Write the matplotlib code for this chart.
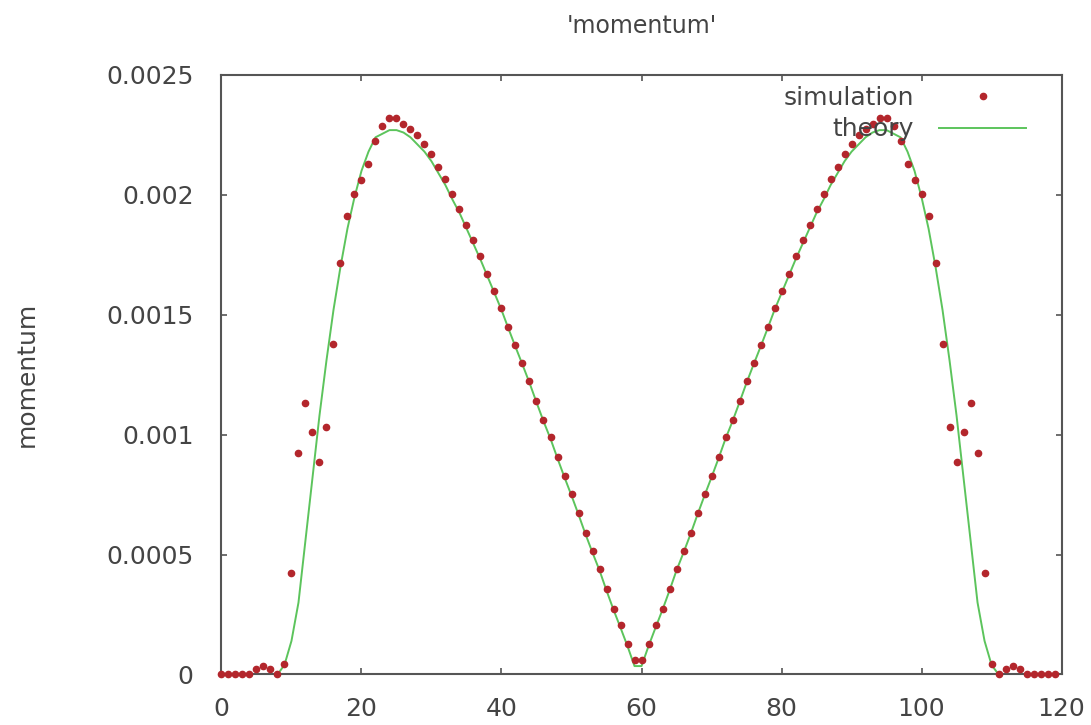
import matplotlib
matplotlib.use('Agg')
import matplotlib.pyplot as plt
import numpy as np

# sample positions (one per cell)
x = list(range(120))

# simulation values
simulation = [
    0.0, 0.0, 0.0, 0.0, 0.000002, 0.000021, 0.000034, 0.000021, 0.000002, 0.000043,
    0.000424, 0.000925, 0.001132, 0.001011, 0.000884, 0.001032, 0.001380, 0.001715, 0.001912, 0.002004,
    0.002060, 0.002130, 0.002225, 0.002288, 0.002320, 0.002320, 0.002297, 0.002273, 0.002248, 0.002212,
    0.002171, 0.002117, 0.002068, 0.002004, 0.001941, 0.001874, 0.001812, 0.001743, 0.001671, 0.001600,
    0.001528, 0.001449, 0.001373, 0.001299, 0.001223, 0.001140, 0.001061, 0.000990, 0.000907, 0.000828,
    0.000752, 0.000673, 0.000590, 0.000514, 0.000441, 0.000355, 0.000274, 0.000205, 0.000129, 0.000062,
    0.000062, 0.000129, 0.000205, 0.000274, 0.000355, 0.000441, 0.000514, 0.000590, 0.000673, 0.000752,
    0.000828, 0.000907, 0.000990, 0.001061, 0.001140, 0.001223, 0.001299, 0.001373, 0.001449, 0.001528,
    0.001600, 0.001671, 0.001743, 0.001812, 0.001874, 0.001941, 0.002004, 0.002068, 0.002117, 0.002171,
    0.002212, 0.002248, 0.002273, 0.002297, 0.002320, 0.002320, 0.002288, 0.002225, 0.002130, 0.002060,
    0.002004, 0.001912, 0.001715, 0.001380, 0.001032, 0.000884, 0.001011, 0.001132, 0.000925, 0.000424,
    0.000043, 0.000002, 0.000021, 0.000034, 0.000021, 0.000002, 0.0, 0.0, 0.0, 0.0,
]

# theory curve
theory = [
    0.0, 0.0, 0.0, 0.0, 0.0, 0.0, 0.0, 0.0, 0.0, 0.00004,
    0.00014, 0.00030, 0.00056, 0.00082, 0.00108, 0.00131, 0.00152, 0.00170, 0.00186, 0.00199,
    0.00210, 0.00218, 0.00224, 0.002255, 0.00227, 0.00227, 0.00226, 0.00224, 0.00221, 0.00218,
    0.00214, 0.00209, 0.00204, 0.00198, 0.001925, 0.00186, 0.001795, 0.00173, 0.00166, 0.00159,
    0.00152, 0.001442, 0.001366, 0.001292, 0.001216, 0.001135, 0.001056, 0.000983, 0.000901, 0.000822,
    0.000746, 0.000667, 0.000585, 0.000508, 0.000434, 0.000350, 0.000270, 0.000195, 0.000118, 0.000035,
    0.000035, 0.000118, 0.000195, 0.000270, 0.000350, 0.000434, 0.000508, 0.000585, 0.000667, 0.000746,
    0.000822, 0.000901, 0.000983, 0.001056, 0.001135, 0.001216, 0.001292, 0.001366, 0.001442, 0.00152,
    0.00159, 0.00166, 0.00173, 0.001795, 0.00186, 0.001925, 0.00198, 0.00204, 0.00209, 0.00214,
    0.00218, 0.00221, 0.00224, 0.00226, 0.00227, 0.00227, 0.002255, 0.00224, 0.00218, 0.00210,
    0.00199, 0.00186, 0.00170, 0.00152, 0.00131, 0.00108, 0.00082, 0.00056, 0.00030, 0.00014,
    0.00004, 0.0, 0.0, 0.0, 0.0, 0.0, 0.0, 0.0, 0.0, 0.0,
]

xticks = [0, 20, 40, 60, 80, 100, 120]
yticks = [0, 0.0005, 0.001, 0.0015, 0.002, 0.0025]
ytick_labels = ['0', '0.0005', '0.001', '0.0015', '0.002', '0.0025']

plt.rcParams['font.family'] = ['DejaVu Sans']

fig = plt.figure(figsize=(10.91, 7.25), dpi=100)
ax = fig.add_axes([0.203, 0.0697, 0.770, 0.8269])

ax.plot(x, simulation, linestyle='none', marker='o', markersize=4.5,
        color='#b3262c', label='simulation', clip_on=False, zorder=3)
ax.plot(x, theory, color='#5cc45c', linewidth=1.4, label='theory', zorder=2)

ax.set_xlim(0, 120)
ax.set_ylim(0, 0.0025)
ax.set_xticks(xticks)
ax.set_yticks(yticks)
ax.set_yticklabels(ytick_labels)

for s in ax.spines.values():
    s.set_color('#555555')
    s.set_linewidth(1.5)

ax.tick_params(direction='in', length=4, width=1.2, color='#555555',
               top=True, right=True, labelsize=18, labelcolor='#444444')
ax.tick_params(axis='y', pad=20)
ax.tick_params(axis='x', pad=16)

ax.set_ylabel('momentum', fontsize=18, color='#444444', labelpad=49)
ax.set_title("'momentum'", fontsize=17, color='#444444', pad=30)

ax.legend(loc='upper right', bbox_to_anchor=(0.958, 0.982), frameon=False,
          markerfirst=False, numpoints=1, fontsize=18, handlelength=3.5,
          handletextpad=1.0, labelspacing=0.3, borderpad=0, borderaxespad=0,
          labelcolor='#444444')

fig.savefig('out.png', dpi=100)
